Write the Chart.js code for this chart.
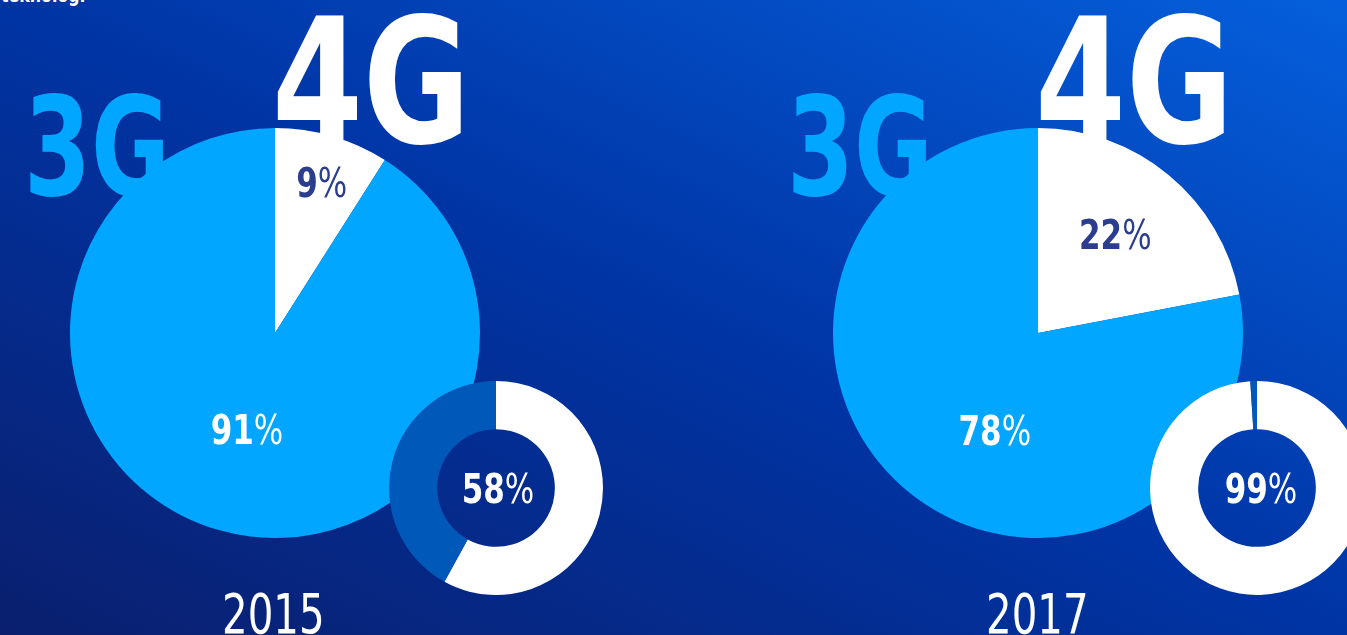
<!DOCTYPE html>
<html>
<head>
<meta charset="utf-8">
<script src="https://cdn.jsdelivr.net/npm/chart.js@4"></script>
<style>
  body { margin: 0; background: #0036a6; }
  #stage {
    position: relative;
    width: 1347px;
    height: 635px;
    overflow: hidden;
    background: linear-gradient(to top right, #0a1f6e 0%, #0034a4 50%, #055fdc 100%);
    font-family: "Liberation Sans Narrow", "DejaVu Sans Condensed", sans-serif;
  }
  #stage canvas { position: absolute; }
  .txt { position: absolute; line-height: 1; white-space: nowrap; transform-origin: 0 0; }
  .gen3 { color: #00a6ff; font-weight: bold; font-size: 137px; transform: scaleX(0.78); }
  .gen4 { color: #ffffff; font-weight: bold; font-size: 175px; transform: scaleX(0.83); }
  .year { color: #ffffff; font-size: 56px; transform: scaleX(0.8); }
  .head { color: #ffffff; font-weight: bold; font-size: 22px; transform: scaleX(0.8); }
</style>
</head>
<body>
<div id="stage">
  <div class="txt head" style="left:1px; top:-16px;">teknologi</div>

  <div class="txt gen3" style="left:24px; top:79px;">3G</div>
  <div class="txt gen4" style="left:272px; top:-5px;">4G</div>
  <div class="txt gen3" style="left:787px; top:79px;">3G</div>
  <div class="txt gen4" style="left:1035px; top:-5px;">4G</div>

  <div class="txt year" style="left:222px; top:586px;" id="year0"></div>
  <div class="txt year" style="left:986px; top:586px;" id="year1"></div>

  <canvas id="pie2015" width="410" height="410" style="left:70px; top:128px;"></canvas>
  <canvas id="pie2017" width="410" height="410" style="left:833px; top:128px;"></canvas>
  <canvas id="ring2015" width="214" height="214" style="left:389px; top:381px;"></canvas>
  <canvas id="ring2017" width="214" height="214" style="left:1150px; top:381px;"></canvas>
</div>

<script>
// data
const years = ['2015', '2017'];
const generations = ['4G', '3G'];
const share2015 = [9, 91];
const share2017 = [22, 78];
const ringLabels = ['4G', 'lainnya'];
const ring2015 = [58, 42];
const ring2017 = [99, 1];

const WHITE = '#ffffff';
const LIGHT = '#00a6ff';
const MID = '#0059b9';
const NAVY = '#2b3d8f';
const FONT = '"Liberation Sans Narrow", "DejaVu Sans Condensed", sans-serif';
const SQUEEZE = 0.84;

document.getElementById('year0').innerText = years[0];
document.getElementById('year1').innerText = years[1];

// bold number followed by a lighter "%" sign, centred on (cx, cy)
function drawPct(ctx, value, cx, cy, size, color) {
  const num = String(value);
  ctx.save();
  ctx.fillStyle = color;
  ctx.textBaseline = 'alphabetic';
  ctx.textAlign = 'left';
  ctx.font = 'bold ' + size + 'px ' + FONT;
  const wNum = ctx.measureText(num).width;
  ctx.font = size + 'px ' + FONT;
  const wPct = ctx.measureText('%').width;
  ctx.translate(cx, cy + size * 0.36);
  ctx.scale(SQUEEZE, 1);
  const x0 = -(wNum + wPct) / 2;
  ctx.font = 'bold ' + size + 'px ' + FONT;
  ctx.fillText(num, x0, 0);
  ctx.font = size + 'px ' + FONT;
  ctx.fillText('%', x0 + wNum, 0);
  ctx.restore();
}

// label position per slice: fraction of the radius along the mid angle, optional turn in degrees
const sliceLabels = {
  id: 'sliceLabels',
  afterDatasetsDraw(chart) {
    const ds = chart.data.datasets[0];
    const meta = chart.getDatasetMeta(0);
    meta.data.forEach((arc, i) => {
      const place = ds.labelPlace[i];
      if (!place) return;
      const p = arc.getProps(['x', 'y', 'startAngle', 'endAngle', 'outerRadius'], true);
      const a = (p.startAngle + p.endAngle) / 2 + (place.turn || 0) * Math.PI / 180;
      const d = place.r * p.outerRadius;
      drawPct(chart.ctx, ds.data[i], p.x + Math.cos(a) * d + (place.dx || 0), p.y + Math.sin(a) * d,
        41, ds.labelColor[i]);
    });
  }
};

function makeChart(id, labels, values, colors, cutout, place, textColors) {
  return new Chart(document.getElementById(id), {
    type: 'doughnut',
    data: {
      labels: labels,
      datasets: [{
        data: values,
        backgroundColor: colors,
        borderWidth: 0,
        labelPlace: place,
        labelColor: textColors
      }]
    },
    options: {
      responsive: false,
      animation: false,
      cutout: cutout,
      layout: { padding: 0 },
      plugins: {
        legend: { display: false },
        tooltip: { enabled: false }
      }
    },
    plugins: [sliceLabels]
  });
}

makeChart('pie2015', generations, share2015, [WHITE, LIGHT], 0,
  [{ r: 0.77, turn: 1 }, { r: 0.49, turn: 0 }], [NAVY, WHITE]);
makeChart('pie2017', generations, share2017, [WHITE, LIGHT], 0,
  [{ r: 0.61, turn: -1.4 }, { r: 0.52, turn: -15.7 }], [NAVY, WHITE]);
makeChart('ring2015', ringLabels, ring2015, [WHITE, MID], '55%',
  [{ r: 0, dx: 2 }, null], [WHITE, WHITE]);
makeChart('ring2017', ringLabels, ring2017, [WHITE, MID], '55%',
  [{ r: 0, dx: 4 }, null], [WHITE, WHITE]);
</script>
</body>
</html>
